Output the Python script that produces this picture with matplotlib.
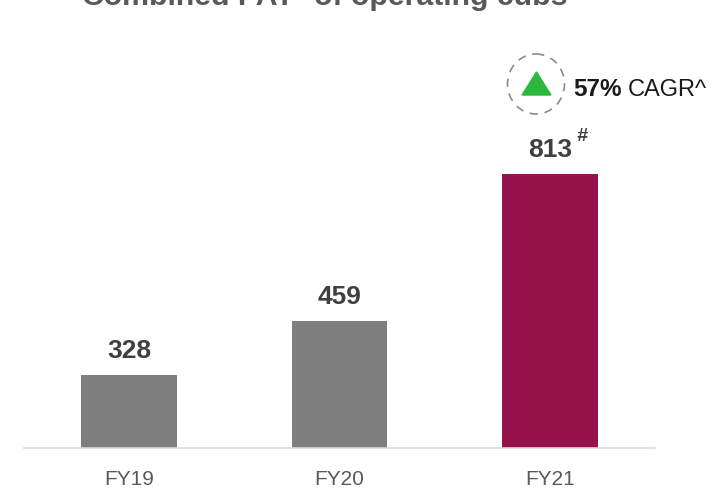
import matplotlib
matplotlib.use("Agg")
import matplotlib.pyplot as plt
from matplotlib.patches import Ellipse, Polygon

plt.rcParams["font.family"] = ["Liberation Sans", "DejaVu Sans"]

W, H = 724, 489
years = ["FY19", "FY20", "FY21"]
pat = [328, 459, 813]
colors = ["#7F7F7F", "#7F7F7F", "#96124B"]
AXIS_FLOOR = 152


def px(x, y):
    # reference pixels to figure fraction
    return x / W, 1 - y / H


fig = plt.figure(figsize=(W / 100, H / 100), dpi=100, facecolor="white")

# x axis runs 24..655 px, baseline at y=449
ax = fig.add_axes([24 / W, 1 - 449 / H, 631 / W, 348 / H])
ax.bar(years, pat, width=0.456, color=colors)
ax.set_xlim(-0.5, 2.5)
ax.set_ylim(AXIS_FLOOR, AXIS_FLOOR + 348 * 2.41)
ax.set_yticks([])
ax.tick_params(axis="x", length=0, pad=15, labelsize=15, labelcolor="#595959")
for spine in ["top", "right", "left"]:
    ax.spines[spine].set_visible(False)
ax.spines["bottom"].set_color("#D9D9D9")
ax.spines["bottom"].set_linewidth(1.2)
ax.patch.set_alpha(0)

for i, val in enumerate(pat):
    ax.annotate(str(val), (i, val), xytext=(0, 13), textcoords="offset pixels",
                ha="center", va="bottom", fontsize=19, fontweight="bold", color="#404040")

fig.text(*px(582, 137), "#", fontsize=14, fontweight="bold", style="italic",
         color="#404040", ha="center", va="center")

fig.text(*px(325, -3), "Combined PAT* of operating cubs", fontsize=21.8, fontweight="bold",
         color="#595959", ha="center", va="center")

# CAGR badge, in pixel coordinates
over = fig.add_axes([0, 0, 1, 1])
over.set_xlim(0, W)
over.set_ylim(H, 0)
over.axis("off")
over.add_patch(Ellipse((536, 85), 57, 60, fill=False, edgecolor="#8C8C8C", linewidth=1.2,
                       linestyle=(0, (5, 4))))
over.add_patch(Polygon([(522, 96), (551, 96), (536.5, 73)], closed=True, color="#2DB83D"))

fig.text(*px(573, 90), "57%", fontsize=17.5, fontweight="bold", color="#1A1A1A",
         ha="left", va="center")
fig.text(*px(628, 90), "CAGR^", fontsize=17, color="#1A1A1A", ha="left", va="center")

fig.savefig("out.png", dpi=100, facecolor="white")
